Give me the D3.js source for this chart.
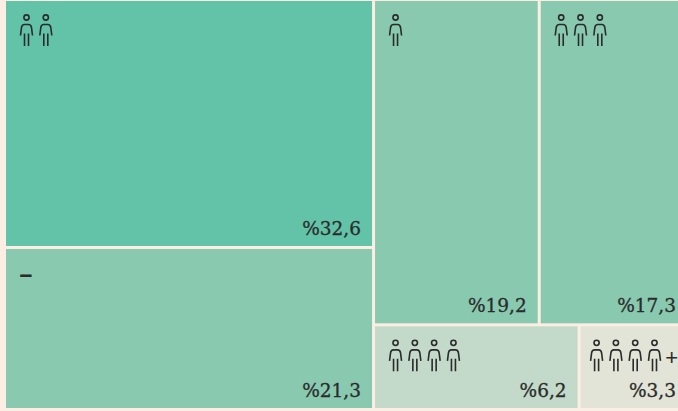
<!DOCTYPE html>
<html lang="en">
<head>
  <meta charset="UTF-8">
  <title>Treemap</title>
  <script src="https://d3js.org/d3.v7.min.js"></script>
  <style>
    html, body { margin: 0; padding: 0; background: #fdeee4; overflow: hidden; }
    svg { display: block; }
    .pct { font-family: "DejaVu Serif", serif; font-size: 18.5px; fill: #2b2b2b; stroke: #2b2b2b; stroke-width: 0.3; text-anchor: end; }
    .mark { font-family: "Liberation Sans", sans-serif; fill: #2b2b2b; }
  </style>
</head>
<body>
<svg width="678" height="411"></svg>
<script>
  // household size shares, left column then right column
  const groups = ["left", "left", "rightTop", "rightTop", "rightBottom", "rightBottom"];
  const values = [32.6, 21.3, 19.2, 17.3, 6.2, 3.3];
  const labels = ["%32,6", "%21,3", "%19,2", "%17,3", "%6,2", "%3,3"];
  const people = [2, 0, 1, 3, 4, 4];
  const suffix = ["", "–", "", "", "", "+"];
  const colors = ["#62c3a8", "#88c9b0", "#88c9b0", "#88c9b0", "#c3d9c9", "#e1e4d6"];

  const leaves = values.map((v, i) => ({ value: v, label: labels[i], people: people[i], suffix: suffix[i], color: colors[i] }));
  const tree = {
    children: [
      { children: leaves.filter((d, i) => groups[i] === "left") },
      { children: [
        { children: leaves.filter((d, i) => groups[i] === "rightTop") },
        { children: leaves.filter((d, i) => groups[i] === "rightBottom") }
      ] }
    ]
  };

  const root = d3.hierarchy(tree).sum(d => d.value || 0);
  d3.treemap().tile(d3.treemapSliceDice).size([681, 407]).paddingInner(3)(root);

  const svg = d3.select("svg");
  const chart = svg.append("g").attr("transform", "translate(6,1)");

  const cell = chart.selectAll("g.cell").data(root.leaves()).join("g")
    .attr("class", "cell")
    .attr("transform", d => `translate(${d.x0},${d.y0})`);

  cell.append("rect")
    .attr("width", d => d.x1 - d.x0)
    .attr("height", d => d.y1 - d.y0)
    .attr("fill", d => d.data.color);

  cell.append("text").attr("class", "pct")
    .attr("x", d => Math.min(d.x1, 681) - d.x0 - 11)
    .attr("y", d => d.y1 - d.y0 - 11)
    .text(d => d.data.label);

  const iconStep = 19.3;
  // last cell is narrow, its icons start closer to the edge
  const iconLeft = d => d.data.suffix === "+" ? 16 : 20.5;
  const icons = cell.append("g").attr("transform", d => `translate(${iconLeft(d)},16.5)`);

  icons.selectAll("g.person").data(d => d3.range(d.data.people)).join("g")
    .attr("class", "person")
    .attr("transform", i => `translate(${i * iconStep},0)`)
    .each(function () {
      const p = d3.select(this).attr("fill", "none").attr("stroke", "#2b2b2b").attr("stroke-width", 1.6);
      p.append("circle").attr("cx", 0).attr("cy", 0).attr("r", 2.6);
      p.append("path").attr("d", "M-6,18 L-5,10 Q-4.5,7 -2,7 L2,7 Q4.5,7 5,10 L6,18");
      p.append("path").attr("d", "M-2,16 V28.5 M2,16 V28.5");
    });

  icons.filter(d => d.data.suffix).append("text").attr("class", "mark")
    .attr("text-anchor", d => d.data.people ? "end" : "start")
    .attr("x", d => d.data.people ? 678 - d.x0 - 6 - iconLeft(d) : -7)
    .attr("y", d => d.data.people ? 22 : 17)
    .attr("font-size", d => d.data.people ? 22 : 23)
    .attr("font-weight", d => d.data.people ? "normal" : "bold")
    .text(d => d.data.suffix);
</script>
</body>
</html>
